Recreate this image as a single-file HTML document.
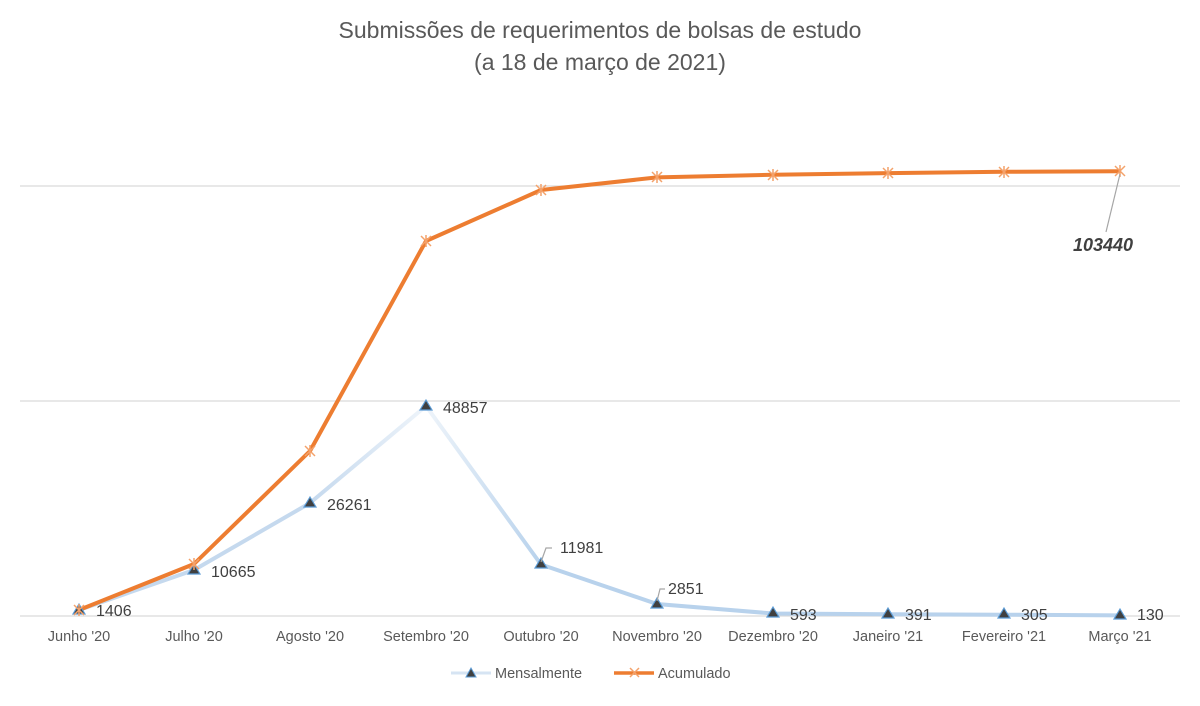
<!DOCTYPE html>
<html><head><meta charset="utf-8"><style>
body{margin:0;background:#fff;}
svg text{font-family:"Liberation Sans",sans-serif;}
</style></head><body>
<svg width="1200" height="701" xmlns="http://www.w3.org/2000/svg">
<defs>
<linearGradient id="g1" x1="310" y1="0" x2="426" y2="0" gradientUnits="userSpaceOnUse"><stop offset="0" stop-color="#c5d9ee"/><stop offset="1" stop-color="#eef4fa"/></linearGradient>
<linearGradient id="g2" x1="426" y1="0" x2="541" y2="0" gradientUnits="userSpaceOnUse"><stop offset="0" stop-color="#eef4fa"/><stop offset="1" stop-color="#b8d2ec"/></linearGradient>
</defs>
<text x="600" y="38" font-size="23" fill="#595959" text-anchor="middle">Submissões de requerimentos de bolsas de estudo</text>
<text x="600" y="70" font-size="23" fill="#595959" text-anchor="middle">(a 18 de março de 2021)</text>
<g stroke="#d9d9d9" stroke-width="1.3">
<line x1="20" y1="186" x2="1180" y2="186"/><line x1="20" y1="401" x2="1180" y2="401"/><line x1="20" y1="616" x2="1180" y2="616"/>
</g>
<g stroke-width="4" fill="none" stroke-linecap="round">
<polyline points="79,610 194,570 310,503" stroke="#c5d9ee"/>
<line x1="310" y1="503" x2="426" y2="406" stroke="url(#g1)"/>
<line x1="426" y1="406" x2="541" y2="564.5" stroke="url(#g2)"/>
<polyline points="541,564.5 657,604 773,613.5 888,614.3 1004,614.7 1120,615.4" stroke="#b8d2ec"/>
</g>
<polyline points="79,610 194,564 310,451 426,241 541,190 657,177.4 773,174.8 888,173.1 1004,171.8 1120,171.2" fill="none" stroke="#ed7d31" stroke-width="4" stroke-linejoin="round"/>
<g fill="#404040" stroke="#5b9bd5" stroke-width="1.2">
<path d="M79,604 l6,10 h-12z"/><path d="M194,564 l6,10 h-12z"/><path d="M310,497 l6,10 h-12z"/><path d="M426,400 l6,10 h-12z"/><path d="M541,558 l6,10 h-12z"/><path d="M657,598 l6,10 h-12z"/><path d="M773,607 l6,10 h-12z"/><path d="M888,608 l6,10 h-12z"/><path d="M1004,608 l6,10 h-12z"/><path d="M1120,609 l6,10 h-12z"/>
</g>
<g stroke="#f4a26b" stroke-width="1.5">
<path d="M74,605l10,10M84,605l-10,10M79,604v12"/>
<path d="M189,559l10,10M199,559l-10,10M194,558v12"/>
<path d="M305,446l10,10M315,446l-10,10M310,445v12"/>
<path d="M421,236l10,10M431,236l-10,10M426,235v12"/>
<path d="M536,185l10,10M546,185l-10,10M541,184v12"/>
<path d="M652,172l10,10M662,172l-10,10M657,171v12"/>
<path d="M768,170l10,10M778,170l-10,10M773,169v12"/>
<path d="M883,168l10,10M893,168l-10,10M888,167v12"/>
<path d="M999,167l10,10M1009,167l-10,10M1004,166v12"/>
<path d="M1115,166l10,10M1125,166l-10,10M1120,165v12"/>
</g>
<g stroke="#a6a6a6" stroke-width="1.2" fill="none">
<path d="M1120,174 L1106,232"/>
<path d="M541,562 l5,-14 h6"/>
<path d="M657,601 l3,-12 h5"/>
</g>
<g font-size="16" fill="#404040">
<text x="96" y="616">1406</text>
<text x="211" y="577">10665</text>
<text x="327" y="510">26261</text>
<text x="443" y="413">48857</text>
<text x="560" y="553">11981</text>
<text x="668" y="594">2851</text>
<text x="790" y="620">593</text>
<text x="905" y="620">391</text>
<text x="1021" y="620">305</text>
<text x="1137" y="620">130</text>
<text x="1073" y="251" font-weight="bold" font-style="italic" font-size="18">103440</text>
</g>
<g font-size="14.5" fill="#595959" text-anchor="middle">
<text x="79" y="641">Junho '20</text><text x="194" y="641">Julho '20</text><text x="310" y="641">Agosto '20</text><text x="426" y="641">Setembro '20</text><text x="541" y="641">Outubro '20</text><text x="657" y="641">Novembro '20</text><text x="773" y="641">Dezembro '20</text><text x="888" y="641">Janeiro '21</text><text x="1004" y="641">Fevereiro '21</text><text x="1120" y="641">Março '21</text>
</g>
<line x1="451" y1="673" x2="491" y2="673" stroke="#d6e4f3" stroke-width="3"/>
<path d="M471,668 l5,9 h-10z" fill="#404040" stroke="#5b9bd5"/>
<text x="495" y="678" font-size="14.5" fill="#595959">Mensalmente</text>
<line x1="614" y1="673" x2="654" y2="673" stroke="#ed7d31" stroke-width="3.5"/>
<path d="M630,668l9,9M639,668l-9,9" stroke="#f4a26b" stroke-width="1.5"/>
<text x="658" y="678" font-size="14.5" fill="#595959">Acumulado</text>
</svg>
</body></html>
